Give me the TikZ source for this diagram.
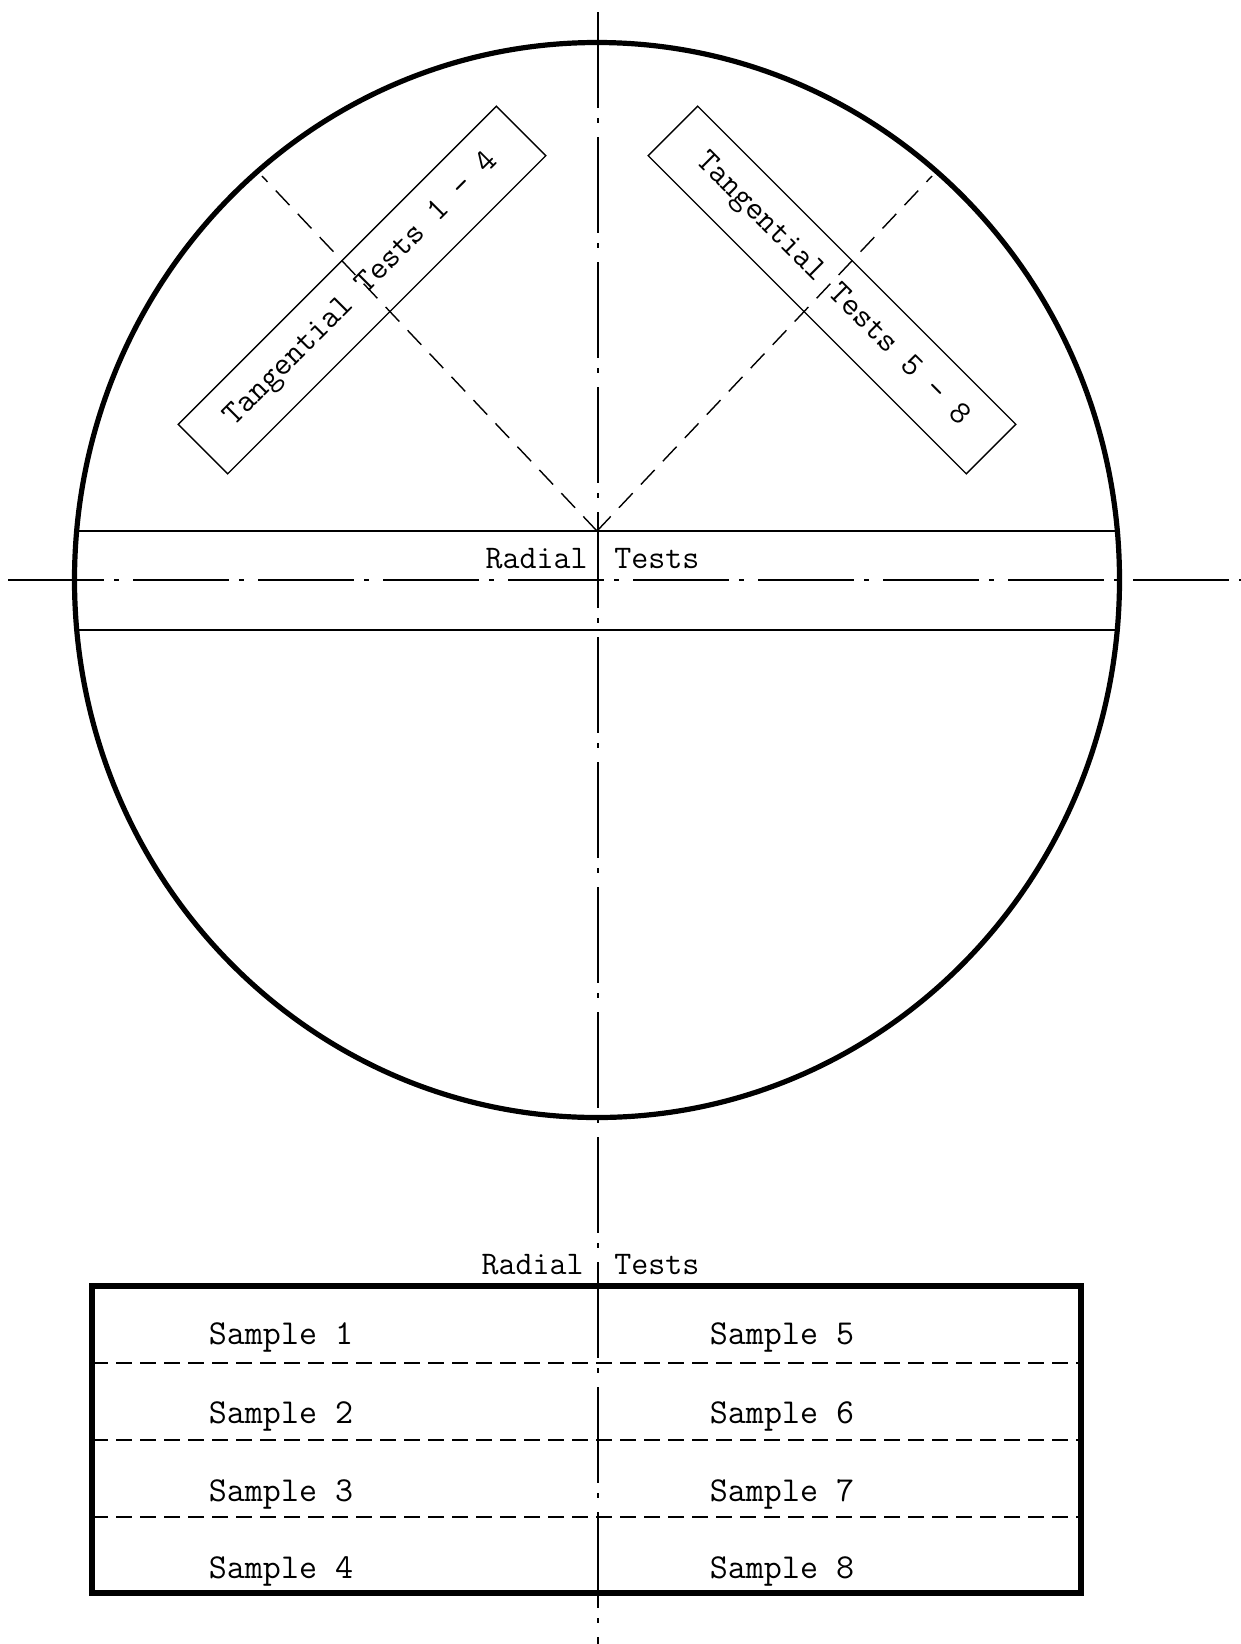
\documentclass[tikz,border=0pt]{standalone}
\usepackage{tikz}
\usetikzlibrary{positioning}

\begin{document}
\begin{tikzpicture}[x=0.5pt, y=-0.5pt, font=\ttfamily\fontsize{16.5}{18}\selectfont]
  \tikzset{rim/.style={line width=2.6pt},chord/.style={line width=1.1pt},axisline/.style={line width=0.9pt, dash pattern=on 48pt off 5pt on 2.5pt off 7pt},guide/.style={line width=0.7pt, dash pattern=on 10pt off 6pt},rowline/.style={line width=0.9pt, dash pattern=on 8pt off 4pt},strip/.style={draw, line width=0.7pt, minimum width=225pt, minimum height=35pt, inner sep=0pt},lbl/.style={inner sep=0pt},sample/.style={font=\ttfamily\fontsize{17.5}{19}\selectfont}}
  \useasboundingbox (0,0) rectangle (1241,1644);
  % centre lines
  \coordinate (c) at (597,580);
  \coordinate (top) at (598,12);
  \coordinate (bot) at (598,1644);
  \coordinate (west) at (8,580);
  \coordinate (east) at (1241,580);
  \draw[axisline] (top) -- (bot);
  \draw[axisline] (west) -- (east);
  % disc and radial strip
  \draw[rim] (c) ellipse [x radius=261.25pt, y radius=268.75pt];
  \draw[chord] (76,531) -- (1117,531);
  \draw[chord] (76,630) -- (1117,630);
  \node[lbl, anchor=east] (rad1) at (588,559) {Radial};
  \node[lbl, anchor=west] (tst1) at (614,559) {Tests};
  % tangential strips
  \coordinate (apex) at (597,531);
  \coordinate (tl) at (262,176);
  \coordinate (tr) at (932,176);
  \draw[guide] (apex) -- (tl);
  \draw[guide] (apex) -- (tr);
  \node[strip, rotate=45] (t14) at (362,290) {Tangential Tests 1 - 4};
  \node[strip, rotate=-45] (t58) at (832,290) {Tangential Tests 5 - 8};
  % sample table
  \node[lbl, anchor=east] (rad2) at (584,1265) {Radial};
  \node[lbl, anchor=west] (tst2) at (614,1265) {Tests};
  \draw[rim] (92,1286) rectangle (1081,1593);
  \foreach \y in {1363,1440,1517}
    \draw[rowline] (92,\y) -- (1081,\y);
  \foreach \i/\j/\y in {1/5/1337,2/6/1416,3/7/1494,4/8/1571} {
    \node[sample] (s\i) at (281,\y) {Sample \i};
    \node[sample] (s\j) at (782,\y) {Sample \j};
  }
\end{tikzpicture}
\end{document}
